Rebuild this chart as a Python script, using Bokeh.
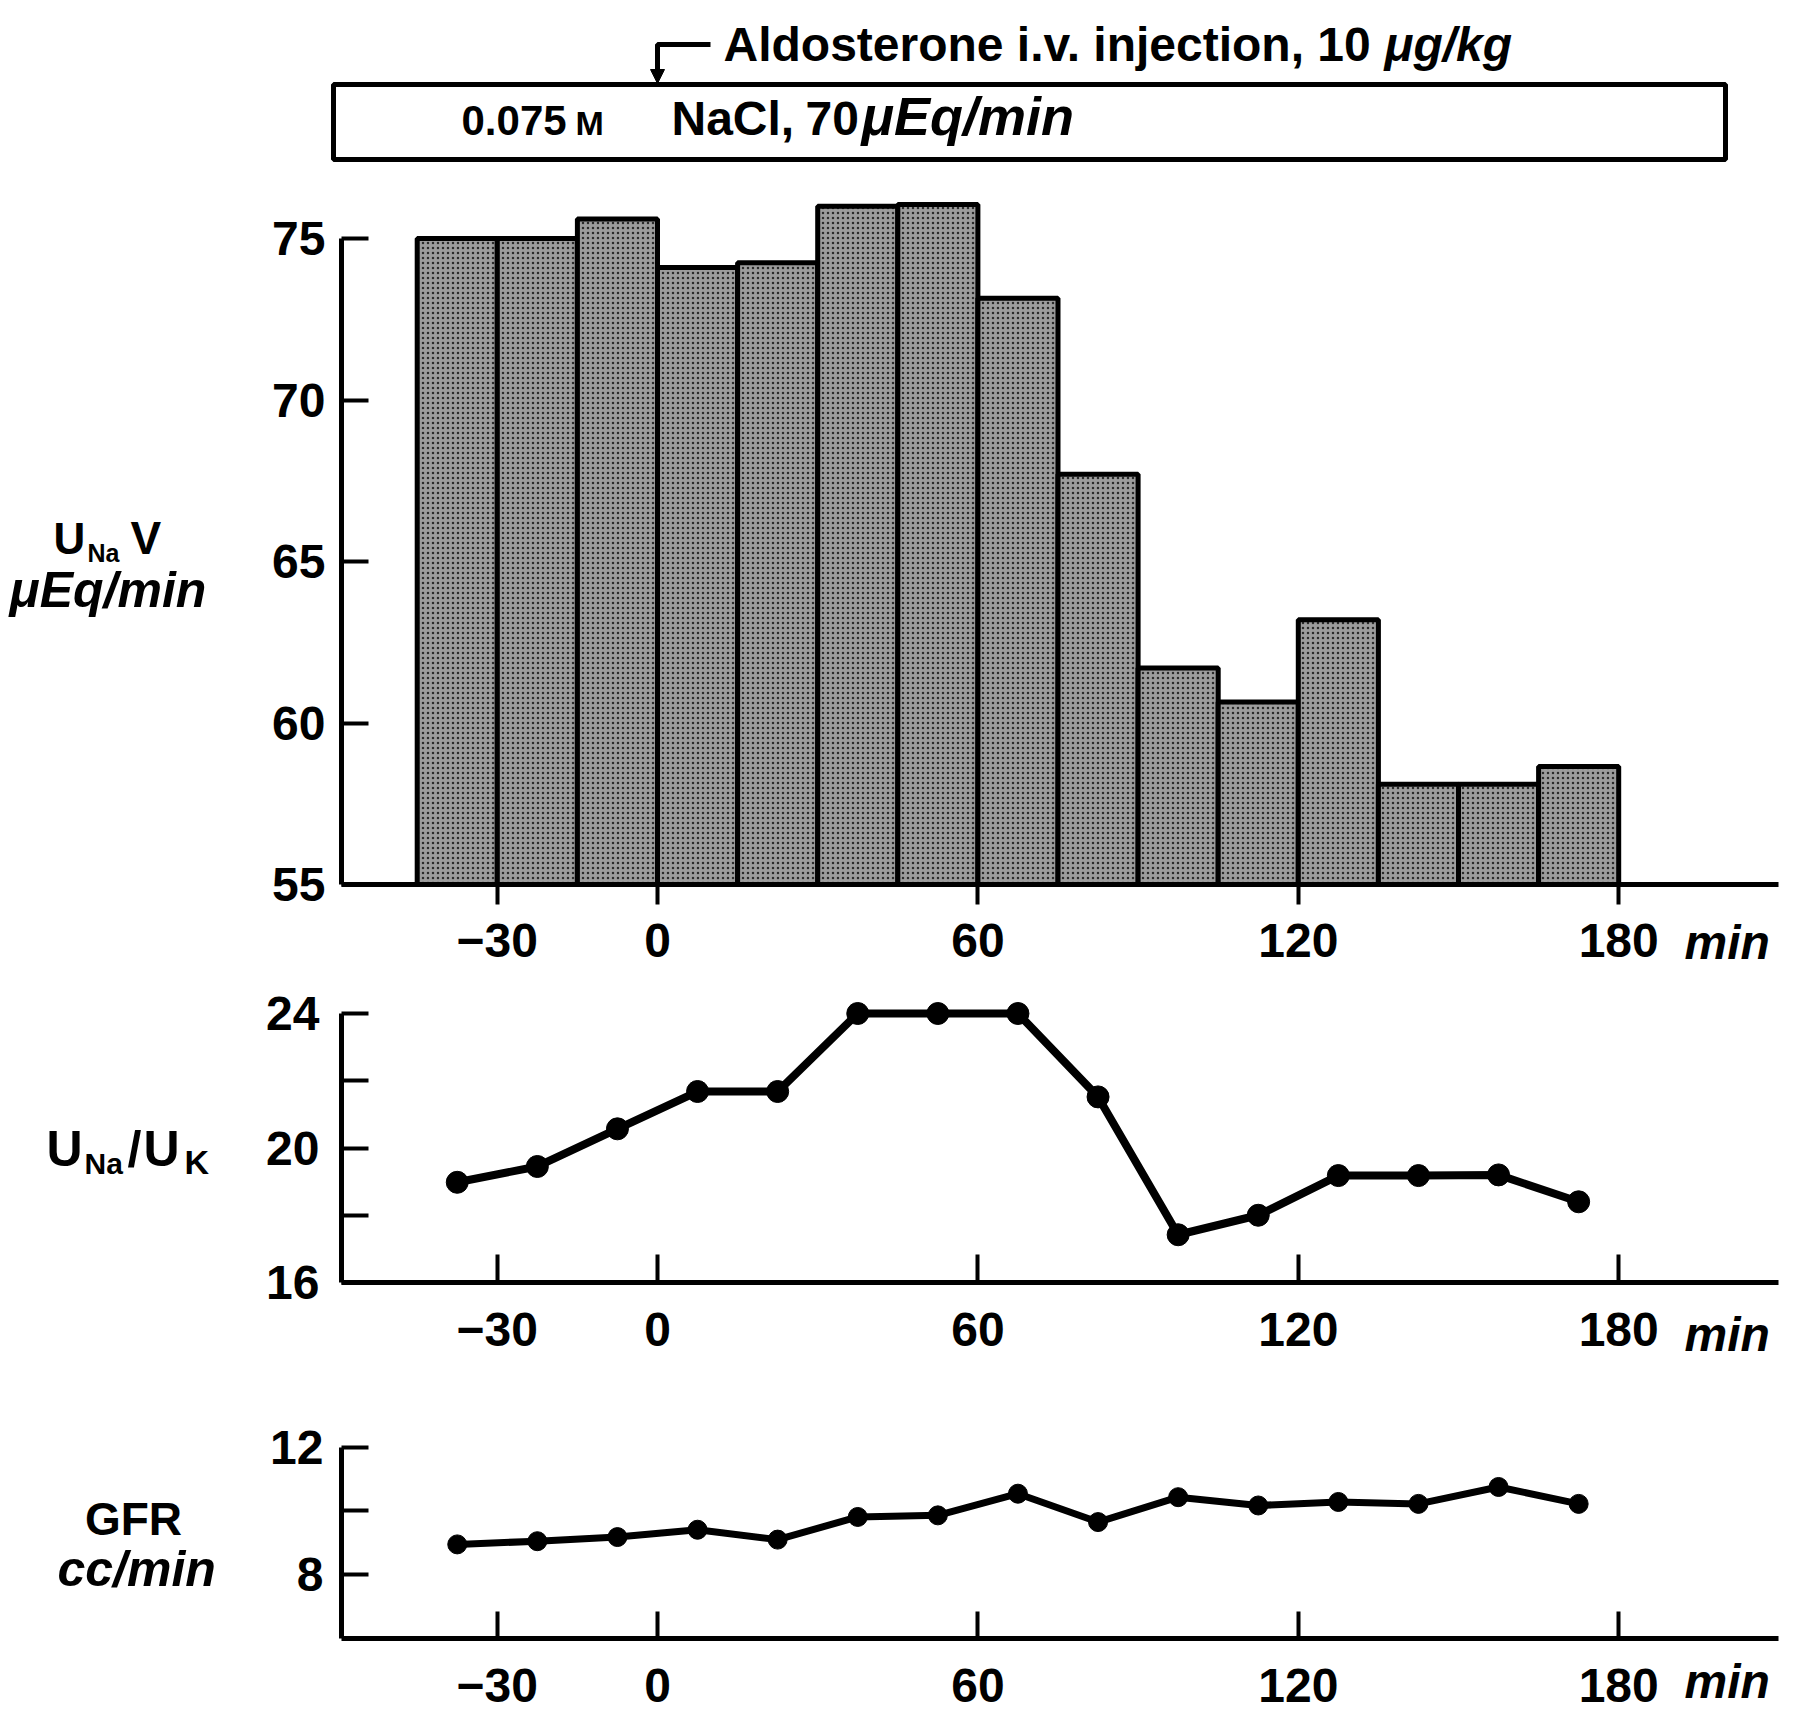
from bokeh.plotting import figure
from bokeh.layouts import column
from bokeh.models import Range1d, Label, FixedTicker, Arrow, NormalHead
from bokeh.embed import file_html
from bokeh.resources import INLINE

# ---------------- data ----------------
interval_start = [-45, -30, -15, 0, 15, 30, 45, 60, 75, 90, 105, 120, 135, 150, 165]
interval_end = [-30, -15, 0, 15, 30, 45, 60, 75, 90, 105, 120, 135, 150, 165, 180]
unav = [75.0, 75.0, 75.6, 74.1, 74.25, 76.0, 76.05, 73.15, 67.7, 61.7, 60.65, 63.2, 58.1, 58.1, 58.65]
mid_time = [-37.5, -22.5, -7.5, 7.5, 22.5, 37.5, 52.5, 67.5, 82.5, 97.5, 112.5, 127.5, 142.5, 157.5, 172.5]
una_uk = [18.98, 19.45, 20.57, 21.68, 21.68, 24.0, 24.0, 24.0, 21.52, 17.42, 18.0, 19.18, 19.18, 19.2, 18.4]
gfr = [8.95, 9.05, 9.18, 9.41, 9.1, 9.81, 9.86, 10.54, 9.65, 10.43, 10.17, 10.28, 10.22, 10.75, 10.22]
injection_time = 0

x_ticks = [-30, 0, 60, 120, 180]
x_tick_labels = {-30: "\u221230", 0: "0", 60: "60", 120: "120", 180: "180"}
unav_ticks = [55, 60, 65, 70, 75]
unav_labels = {55: "55", 60: "60", 65: "65", 70: "70", 75: "75"}
ratio_ticks = [16, 18, 20, 22, 24]
ratio_labels = {16: "16", 18: "", 20: "20", 22: "", 24: "24"}
gfr_ticks = [8, 10, 12]
gfr_labels = {8: "8", 10: "", 12: "12"}

# ---------------- layout constants (page pixels) ----------------
FONT = "Liberation Sans"
X0_PAGE = 657.0      # page x of t = 0
PPM = 5.34           # pixels per minute
AXIS_L = 341.0       # page x of the y axes
AXIS_R = 1778.0      # page x where the x axes end
FIG_W = 1792
BASE_SHIFT = 0.34    # label baseline correction (fraction of font size)


def to_min(px):
    return (px - X0_PAGE) / PPM


def make_panel(fig_top, fig_h, y_ref_val, y_ref_px, ppu):
    fig_bot = fig_top + fig_h
    y_lo = y_ref_val - (fig_bot - y_ref_px) / ppu
    y_hi = y_ref_val + (y_ref_px - fig_top) / ppu
    p = figure(width=FIG_W, height=fig_h, output_backend="svg", toolbar_location=None,
               x_range=Range1d(to_min(0), to_min(FIG_W)),
               y_range=Range1d(y_lo, y_hi),
               min_border_left=0, min_border_right=0, min_border_top=0, min_border_bottom=0)
    p.background_fill_color = "white"
    p.border_fill_color = "white"
    p.outline_line_color = None
    p.xgrid.visible = False
    p.ygrid.visible = False
    return p


def style_axes(p, x_loc, y_ticks, y_labels, y_bounds, x_out, x_in, x_standoff, y_standoff):
    for ax in p.xaxis:
        ax.fixed_location = x_loc
        ax.bounds = (to_min(AXIS_L), to_min(AXIS_R))
        ax.ticker = FixedTicker(ticks=x_ticks)
        ax.major_label_overrides = x_tick_labels
        ax.major_tick_out = x_out
        ax.major_tick_in = x_in
        ax.major_label_standoff = x_standoff
    for ax in p.yaxis:
        ax.fixed_location = to_min(AXIS_L)
        ax.bounds = y_bounds
        ax.ticker = FixedTicker(ticks=y_ticks)
        ax.major_label_overrides = y_labels
        ax.major_tick_out = 0
        ax.major_tick_in = 27
        ax.major_label_standoff = y_standoff
    for ax in p.axis:
        ax.minor_tick_out = 0
        ax.minor_tick_in = 0
        ax.axis_line_width = 5
        ax.axis_line_color = "black"
        ax.major_tick_line_width = 4
        ax.major_tick_line_color = "black"
        ax.major_label_text_font = FONT
        ax.major_label_text_font_size = "48px"
        ax.major_label_text_font_style = "bold"
        ax.major_label_text_color = "black"


def add_text(p, fig_bot, px, py, text, size, style="bold", align="left"):
    p.add_layout(Label(x=px, y=fig_bot - (py - BASE_SHIFT * size), x_units="screen", y_units="screen",
                       text=text, text_font=FONT, text_font_size=f"{size}px",
                       text_font_style=style, text_align=align, text_baseline="alphabetic",
                       text_color="black"))


# ---------------- header ----------------
H_TOP, H_H = 0.0, 170
H_BOT = H_TOP + H_H
hdr = figure(width=FIG_W, height=H_H, output_backend="svg", toolbar_location=None,
             x_range=Range1d(to_min(0), to_min(FIG_W)),
             y_range=Range1d(H_BOT, H_TOP),
             x_axis_type=None, y_axis_type=None,
             min_border_left=0, min_border_right=0, min_border_top=0, min_border_bottom=0)
hdr.outline_line_color = None
hdr.xgrid.visible = False
hdr.ygrid.visible = False
hdr.quad(left=[to_min(333)], right=[to_min(1725)], top=[84], bottom=[159],
         fill_color=None, line_color="black", line_width=5)
hdr.line(x=[to_min(710), injection_time, injection_time], y=[44, 44, 66],
         line_color="black", line_width=5)
hdr.add_layout(Arrow(x_start=injection_time, y_start=60, x_end=injection_time, y_end=83,
                     line_color="black", line_width=5,
                     end=NormalHead(size=14, fill_color="black", line_color="black")))

add_text(hdr, H_BOT, 723, 60, "Aldosterone i.v. injection, 10", 48)
add_text(hdr, H_BOT, 1384, 60, "\u03bcg/kg", 48, "bold italic")
add_text(hdr, H_BOT, 461, 134, "0.075", 42)
add_text(hdr, H_BOT, 575, 134, "M", 34)
add_text(hdr, H_BOT, 671, 134, "NaCl,", 48)
add_text(hdr, H_BOT, 805, 134, "70", 48)
add_text(hdr, H_BOT, 861, 134, "\u03bcEq/min", 54, "bold italic")

# ---------------- top panel: U_Na V bars ----------------
T_TOP, T_H = 170.0, 805
T_BOT = T_TOP + T_H
top = make_panel(T_TOP, T_H, 55, 884.0, (884.0 - 238.0) / 20.0)
top.quad(left=interval_start, right=interval_end, bottom=55, top=unav,
         fill_color="#9c9c9c", line_color="black", line_width=5,
         hatch_pattern="dot", hatch_color="#1e1e1e", hatch_scale=5, hatch_weight=2, hatch_alpha=0.9)
style_axes(top, 55, unav_ticks, unav_labels, (55, 75), 20, 0, 19, 16)
add_text(top, T_BOT, 53, 553, "U", 44)
add_text(top, T_BOT, 87, 561, "Na", 25)
add_text(top, T_BOT, 130, 553, "V", 46)
add_text(top, T_BOT, 9, 606, "\u03bcEq/min", 50, "bold italic")
add_text(top, T_BOT, 1684, 958, "min", 48, "bold italic")

# ---------------- middle panel: U_Na/U_K ----------------
M_TOP, M_H = 975.0, 390
M_BOT = M_TOP + M_H
mid = make_panel(M_TOP, M_H, 16, 1282.0, (1282.0 - 1013.0) / 8.0)
mid.line(mid_time, una_uk, line_color="black", line_width=8)
mid.scatter(mid_time, una_uk, size=22, fill_color="black", line_color="black")
style_axes(mid, 16, ratio_ticks, ratio_labels, (16, 24), 0, 28, 30, 22)
add_text(mid, M_BOT, 46, 1165, "U", 50)
add_text(mid, M_BOT, 84, 1173, "Na", 30)
add_text(mid, M_BOT, 127, 1165, "/", 50)
add_text(mid, M_BOT, 143, 1165, "U", 50)
add_text(mid, M_BOT, 184, 1173, "K", 34)
add_text(mid, M_BOT, 1684, 1350, "min", 48, "bold italic")

# ---------------- bottom panel: GFR ----------------
B_TOP, B_H = 1365.0, 347
B_BOT = B_TOP + B_H
bot = make_panel(B_TOP, B_H, 6, 1638.0, (1638.0 - 1446.6) / 6.0)
bot.line(mid_time, gfr, line_color="black", line_width=7)
bot.scatter(mid_time, gfr, size=19, fill_color="black", line_color="black")
style_axes(bot, 6, gfr_ticks, gfr_labels, (6, 12), 0, 27, 30, 18)
add_text(bot, B_BOT, 133, 1534, "GFR", 46, "bold", "center")
add_text(bot, B_BOT, 57, 1585, "cc/min", 50, "bold italic")
add_text(bot, B_BOT, 1684, 1697, "min", 48, "bold italic")

layout = column(hdr, top, mid, bot, spacing=0)
open("out.html", "w").write(file_html(layout, INLINE))
